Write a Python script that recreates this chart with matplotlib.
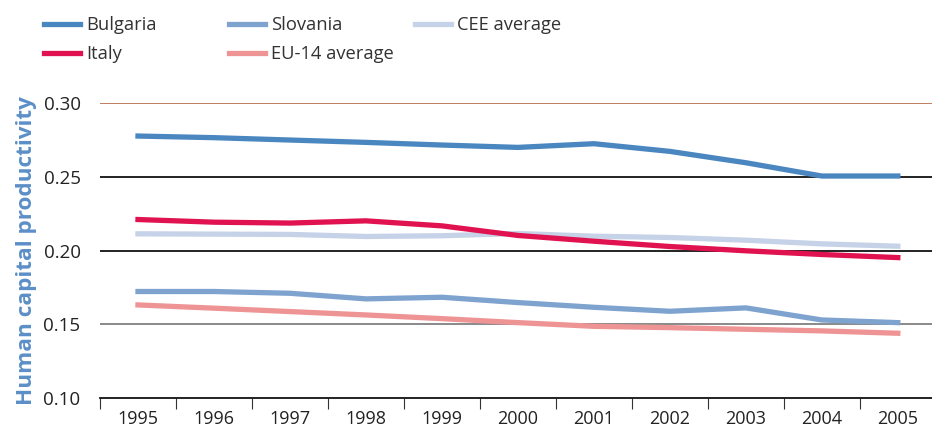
import matplotlib.pyplot as plt
import numpy as np

plt.rcParams['font.family'] = ['Open Sans', 'DejaVu Sans']

years = ['1995', '1996', '1997', '1998', '1999', '2000',
         '2001', '2002', '2003', '2004', '2005']
bulgaria = [0.2776, 0.2765, 0.2749, 0.2733, 0.2715, 0.2699,
            0.2724, 0.2672, 0.2595, 0.2505, 0.2505]
italy = [0.2210, 0.2192, 0.2186, 0.2201, 0.2167, 0.2102,
         0.2063, 0.2027, 0.1998, 0.1973, 0.1952]
cee_avg = [0.2113, 0.2111, 0.2109, 0.2095, 0.2100, 0.2115,
           0.2097, 0.2088, 0.2070, 0.2045, 0.2029]
slovania = [0.1722, 0.1722, 0.1710, 0.1672, 0.1683, 0.1647,
            0.1615, 0.1588, 0.1611, 0.1529, 0.1511]
eu14_avg = [0.1631, 0.1609, 0.1586, 0.1563, 0.1538, 0.1511,
            0.1486, 0.1477, 0.1466, 0.1455, 0.1439]
y_ticks = [0.10, 0.15, 0.20, 0.25, 0.30]

x = np.arange(len(years))

fig = plt.figure(figsize=(9.32, 4.30), dpi=100)
ax = fig.add_axes([100 / 932, 1 - 398 / 430, 1 - 100 / 932, (398 - 103) / 430])

lw = 3.8
l_cee, = ax.plot(x, cee_avg, color='#c5d2e8', lw=lw, label='CEE average', zorder=3)
l_eu, = ax.plot(x, eu14_avg, color='#ee9494', lw=lw, label='EU-14 average', zorder=3)
l_slo, = ax.plot(x, slovania, color='#7ea3cf', lw=lw, label='Slovania', zorder=4)
l_it, = ax.plot(x, italy, color='#e0124f', lw=lw, label='Italy', zorder=5)
l_bg, = ax.plot(x, bulgaria, color='#4a86bf', lw=lw, label='Bulgaria', zorder=5)

# horizontal reference lines
grid_colors = {0.15: '#808080', 0.20: '#111111', 0.25: '#111111', 0.30: '#b87550'}
for val, col in grid_colors.items():
    ax.axhline(val, color=col, lw=1.3, zorder=2)

ax.set_ylim(0.10, 0.30)
ax.set_xlim(-0.5, 10.45)
ax.set_yticks(y_ticks)
ax.set_yticklabels(['%.2f' % v for v in y_ticks])
ax.tick_params(axis='y', length=0, pad=14, labelsize=13.5, labelcolor='#222222')

ax.set_xticks(np.arange(-0.5, 10, 1.0))
ax.set_xticklabels([])
ax.set_xticks(x, minor=True)
ax.set_xticklabels(years, minor=True)
ax.tick_params(axis='x', which='major', length=8, direction='out', color='#333333')
ax.tick_params(axis='x', which='minor', length=0, pad=8.5, labelsize=13, labelcolor='#222222')

for s in ['top', 'right', 'left']:
    ax.spines[s].set_visible(False)
ax.spines['bottom'].set_color('#111111')
ax.spines['bottom'].set_linewidth(1.3)

ax.set_ylabel('Human capital productivity', fontsize=16.2, fontweight='bold',
              color='#5b8fc7')
ax.yaxis.set_label_coords(-63 / 832, 0.5)

# legend: three columns placed separately
cols = [([l_bg, l_it], 44), ([l_slo, l_eu], 229), ([l_cee], 415)]
for handles, xpx in cols:
    fig.legend(handles=handles, labels=[h.get_label() for h in handles],
               loc='upper left', bbox_to_anchor=(xpx / 932, 1 - 16 / 430),
               frameon=False, fontsize=13.2, handlelength=1.95, handletextpad=0.33,
               labelspacing=0.6, borderpad=0, borderaxespad=0,
               labelcolor='#333333')

fig.savefig('out.png', dpi=100)
